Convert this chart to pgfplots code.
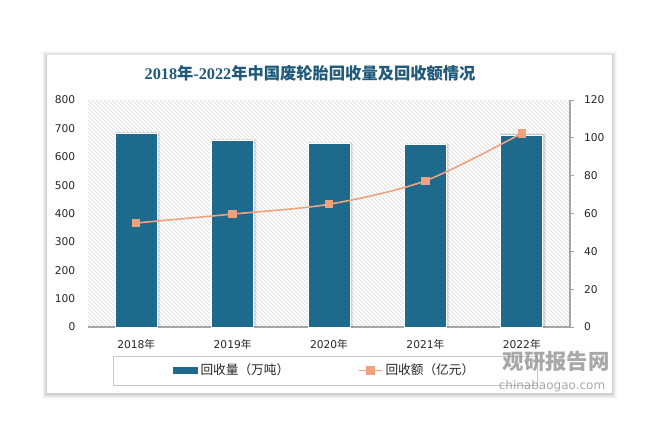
\documentclass[border=0pt]{standalone}
\usepackage{fontspec}
\setmainfont{DejaVu Sans}
\newfontfamily\cjk{Noto Sans CJK SC}
\newfontfamily\titleserif{Liberation Serif}
\usepackage{pgfplots}
\pgfplotsset{compat=1.18}
\usetikzlibrary{patterns}
\definecolor{barc}{HTML}{1E6A8D}
\definecolor{linec}{HTML}{F0A27E}
\definecolor{titlec}{HTML}{1F5A7A}
\definecolor{axisc}{HTML}{A6A6A6}
\begin{document}
\begin{tikzpicture}[x=0.75pt,y=0.75pt]
\fill[white] (0,0) rectangle (660,436);
% card with soft shadow
\foreach \i/\o in {5/0.025,4/0.03,3/0.035,2/0.045,1/0.06}{
  \fill[black,opacity=\o] (47-\i,43-\i-1) rectangle (612+\i,381+\i-1);
}
\fill[white] (47,43) rectangle (612,381);
% title
\node[text=titlec,font=\fontsize{12.2}{14}\selectfont] at (310,363)
  {\titleserif\bfseries 2018{\cjk\bfseries 年}-2022{\cjk\bfseries 年中国废轮胎回收量及回收额情况}};

\begin{axis}[
  at={(66pt,81.75pt)}, anchor=south west,
  scale only axis, width=361.5pt, height=170.25pt,
  xmin=-0.5, xmax=4.5, ymin=0, ymax=800,
  ytick={0,100,...,800},
  xtick={0,1,2,3,4},
  xticklabels={2018{\cjk 年},2019{\cjk 年},2020{\cjk 年},2021{\cjk 年},2022{\cjk 年}},
  axis x line*=bottom, axis y line*=left,
  x axis line style={draw=axisc, line width=0.9pt, -},
  y axis line style={draw=none},
  tick style={draw=none},
  tick label style={font=\fontsize{8}{10}\selectfont, text=black!85},
  yticklabel style={xshift=-6pt},
  xticklabel style={yshift=-6pt},
  axis background/.style={pattern=north west lines, pattern color=black!15},
  /pgf/number format/assume math mode=true,
  clip=false,
]
% soft bar shadows
\addplot[ybar, bar width=34pt, bar shift=1pt, fill=black, opacity=0.06, draw=none]
  coordinates {(0,688) (1,662) (2,651) (3,647) (4,682)};
\addplot[ybar, bar width=33pt, bar shift=0.8pt, fill=black, opacity=0.08, draw=none]
  coordinates {(0,686) (1,660) (2,649) (3,645) (4,680)};
\addplot[ybar, bar width=31.5pt, fill=barc, draw=white, line width=0.6pt]
  coordinates {(0,683) (1,657) (2,646) (3,642) (4,677)};
\end{axis}

\begin{axis}[
  at={(66pt,81.75pt)}, anchor=south west,
  scale only axis, width=361.5pt, height=170.25pt,
  xmin=-0.5, xmax=4.5, ymin=0, ymax=120,
  ytick={0,20,...,120},
  axis x line=none, axis y line*=right,
  y axis line style={draw=axisc, line width=0.9pt, -},
  ytick style={draw=axisc, line width=0.6pt},
  tick align=outside, major tick length=3pt,
  tick label style={font=\fontsize{8}{10}\selectfont, text=black!85},
  yticklabel style={xshift=4pt},
  /pgf/number format/assume math mode=true,
  legend columns=2,
  legend style={at={(0.4917,-0.1916)}, anchor=center, draw=black!22, line width=0.6pt,
    inner xsep=45pt, inner ysep=4pt,
    font=\fontsize{9.5}{11}\selectfont\cjk, text=black!85,
    /tikz/every even column/.append style={column sep=50pt}},
  legend cell align=left,
  clip=false,
]
\addlegendimage{legend image code/.code={\fill[barc] (0pt,-2pt) rectangle (18pt,2pt);}}
\addlegendentry{回收量（万吨）}
\addplot[smooth, color=linec, line width=1.2pt, mark=square*, mark size=2.6pt,
  mark options={fill=linec, draw=linec}]
  coordinates {(0,55.0) (1,59.7) (2,64.9) (3,77.3) (4,102.4)};
\addlegendentry{回收额（亿元）}
\end{axis}
% watermark
\node[text=black!45,font=\fontsize{16}{18}\selectfont\cjk\bfseries,opacity=0.75] at (556,75) {观研报告网};
\node[text=black!45,font=\fontsize{9}{11}\selectfont,opacity=0.75] at (552,50) {chinabaogao.com};
\end{tikzpicture}
\end{document}
